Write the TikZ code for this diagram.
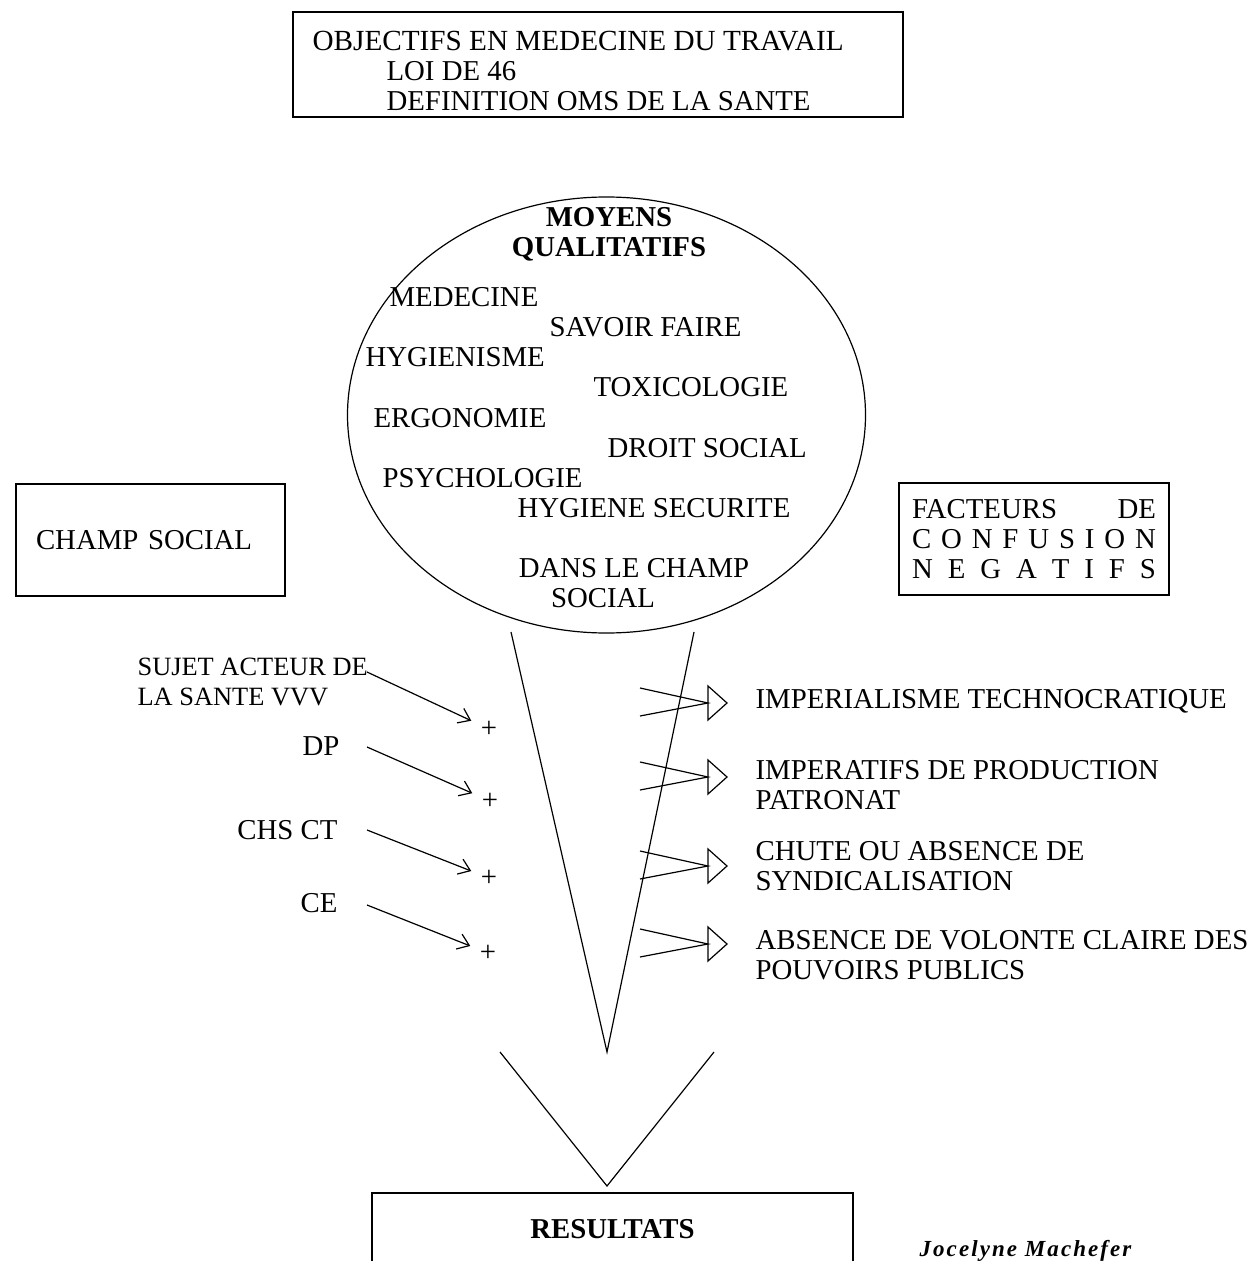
\documentclass[tikz,border=0pt]{standalone}
\usepackage{fontspec}
\setmainfont{Liberation Serif}
\newfontfamily\signature[LetterSpace=9]{Liberation Serif}
\usetikzlibrary{arrows, arrows.meta, shapes}

\begin{document}
\begin{tikzpicture}[x=0.5pt, y=-0.5pt, line width=0.6pt,
    >={Straight Barb[length=5.5pt,width=8pt]}]
    \tikzstyle{every node} = [inner sep=0pt, font=\fontsize{14.4}{15}\selectfont]
    \tikzstyle{boite} = [draw, rectangle, align=left]
    \tikzstyle{mot} = [anchor=base west]
    \tikzstyle{plus} = [inner sep=4.5pt]
    \clip (0,0) rectangle (1246,1261);
    % objectifs
    \draw (293,12) rectangle (903,117);
    \node (objectifs) [anchor=north west, align=left] at (312,30.5)
      {\fontsize{14.6}{15}\selectfont OBJECTIFS EN MEDECINE DU TRAVAIL\\
       \hspace*{37pt}LOI DE 46\\
       \hspace*{37pt}DEFINITION OMS DE LA SANTE};
    % moyens qualitatifs
    \node (cercle) [draw, ellipse, minimum width=259pt, minimum height=218pt] at (606.5,415) {};
    \node (moyens) [anchor=base, font=\fontsize{14.4}{15}\selectfont\bfseries] at (609,227) {MOYENS};
    \node (qualit) [anchor=base, font=\fontsize{14.4}{15}\selectfont\bfseries] at (609,257) {QUALITATIFS};
    \node (m1) [mot] at (389,307) {MEDECINE};
    \node (m2) [mot] at (549,337) {SAVOIR FAIRE};
    \node (m3) [mot] at (365,367) {HYGIENISME};
    \node (m4) [mot] at (593,397) {TOXICOLOGIE};
    \node (m5) [mot] at (373,427) {ERGONOMIE};
    \node (m6) [mot] at (607,457) {DROIT SOCIAL};
    \node (m7) [mot] at (382,487) {PSYCHOLOGIE};
    \node (m8) [mot] at (517,517) {HYGIENE SECURITE};
    \node (m9) [anchor=base] at (634,577) {DANS LE CHAMP};
    \node (m10) [anchor=base] at (603,607) {SOCIAL};
    % cadres lateraux
    \node (champ) [boite, minimum width=134.5pt, minimum height=56pt, text width=114.5pt, inner xsep=10pt]
      at (150.5,540) {CHAMP SOCIAL};
    \node (facteurs) [boite, minimum width=135pt, minimum height=56pt, text width=122pt, inner xsep=6.5pt]
      at (1034,539)
      {\makebox[\linewidth]{FACTEURS\hfill DE}\\
       \makebox[\linewidth]{C\hfill O\hfill N\hfill F\hfill U\hfill S\hfill I\hfill O\hfill N}\\
       \makebox[\linewidth]{N\hfill E\hfill G\hfill A\hfill T\hfill I\hfill F\hfill S}};
    % entonnoir
    \coordinate (fl) at (511,632);
    \coordinate (fr) at (694,632);
    \coordinate (ftip) at (607,1052);
    \draw (fl) -- (ftip) -- (fr);
    \coordinate (vl) at (500,1052);
    \coordinate (vr) at (714,1052);
    \coordinate (vb) at (607,1186);
    \draw (vl) -- (vb) -- (vr);
    \node (resultats) [boite, minimum width=240.5pt, minimum height=36pt,
      font=\fontsize{14.4}{15}\selectfont\bfseries] at (612.5,1229) {RESULTATS};
    \node (auteur) [anchor=base west, font=\fontsize{11.5}{12}\signature\bfseries\itshape]
      at (919,1256) {Jocelyne Machefer};
    % acteurs (gauche)
    \node (sujet) [anchor=north west, align=left, font=\fontsize{13.2}{15}\selectfont]
      at (137,657) {SUJET ACTEUR DE\\LA SANTE VVV};
    \node (dp) [anchor=base east] at (340,755) {DP};
    \node (chs) [anchor=base east] at (338,839) {CHS CT};
    \node (ce) [anchor=base east] at (338,912) {CE};
    \node (p1) [plus] at (489,729) {+};
    \node (p2) [plus] at (490,801) {+};
    \node (p3) [plus] at (489,878) {+};
    \node (p4) [plus] at (488,953) {+};
    \coordinate (s1) at (367,672);
    \coordinate (s2) at (367,747);
    \coordinate (s3) at (367,830);
    \coordinate (s4) at (367,905);
    \draw [->] (s1) -- (p1);
    \draw [->] (s2) -- (p2);
    \draw [->] (s3) -- (p3);
    \draw [->] (s4) -- (p4);
    % facteurs negatifs (droite)
    \node (n1) [anchor=base west] at (755,708) {IMPERIALISME TECHNOCRATIQUE};
    \node (n2) [anchor=west, align=left] at (755,785.5) {IMPERATIFS DE PRODUCTION\\PATRONAT};
    \node (n3) [anchor=west, align=left] at (755,866) {CHUTE OU ABSENCE DE\\SYNDICALISATION};
    \node (n4) [anchor=west, align=left] at (755,955.5) {ABSENCE DE VOLONTE CLAIRE DES\\POUVOIRS PUBLICS};
    \foreach \i/\c in {1/703, 2/777, 3/866, 4/944} {
      \coordinate (k\i) at (708,\c);
      \coordinate (a\i) at (640,\c-15);
      \coordinate (b\i) at (640,\c+13);
      \draw (a\i) -- (k\i) -- (b\i);
      \draw (k\i) -- ++(0,-17) -- ++(19,17) -- ++(-19,17) -- cycle;
    }
\end{tikzpicture}
\end{document}
